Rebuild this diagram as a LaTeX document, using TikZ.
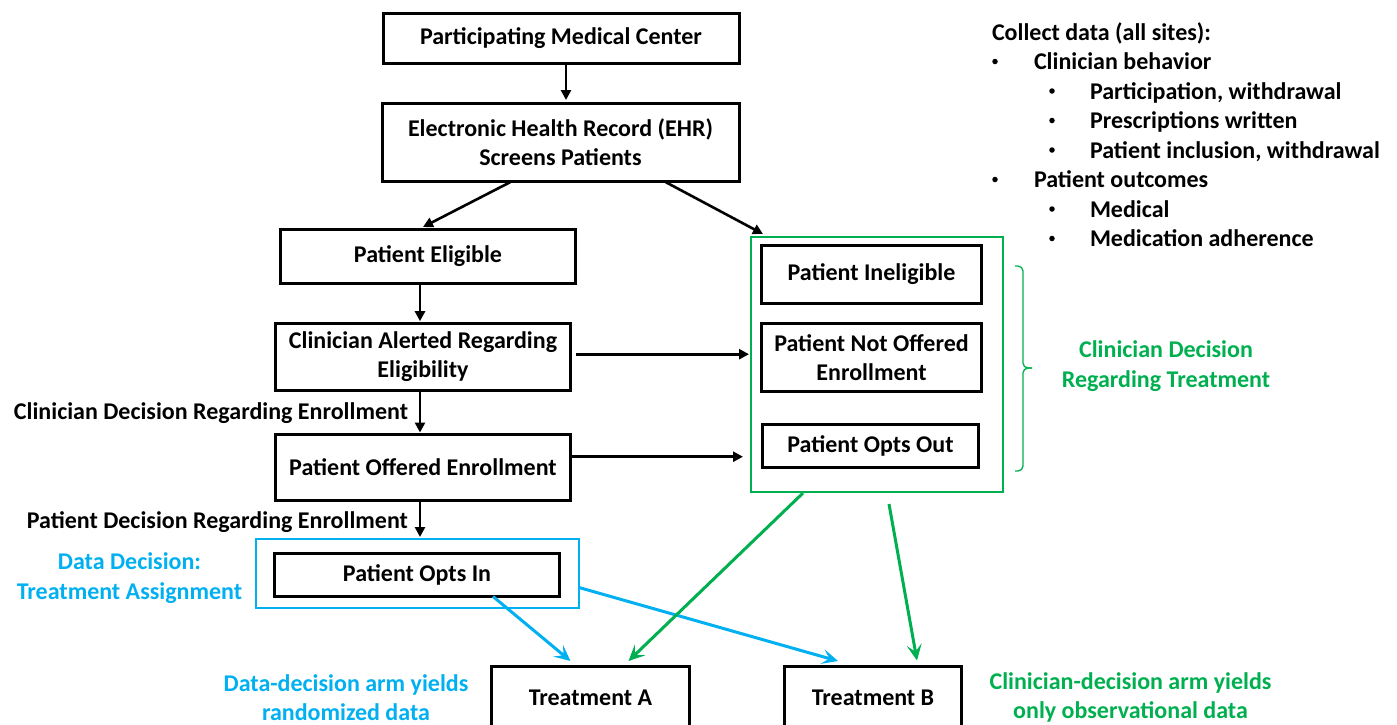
\documentclass[tikz,border=0pt]{standalone}
\usepackage{fontspec}
\setmainfont{Carlito}
\usetikzlibrary{arrows.meta,calc}
\definecolor{cblue}{HTML}{00B0F0}
\definecolor{cgreen}{HTML}{00B050}
\begin{document}
\begin{tikzpicture}[x=1pt,y=-1pt,
  every node/.style={font=\bfseries\fontsize{24}{29.5}\selectfont, inner sep=0pt, outer sep=0pt},
  box/.style={draw=black, line width=3pt, align=center, fill=white},
  barrow/.style={draw=black, line width=2.6pt, -{Triangle[length=10pt,width=10pt]}},
  carrow/.style={line width=3pt, -{Stealth[length=16pt,width=15pt,inset=7pt]}},
  lbl/.style={align=center},
  item/.style={anchor=base west},
  bul/.style={circle, fill=black, minimum size=5.5pt}]
\clip (0,0) rectangle (1397,724);
\fill[white] (0,0) rectangle (1397,724);

% containers
\node[draw=cgreen, line width=2.5pt, minimum width=252pt, minimum height=255pt] (green) at (877,364.5) {};
\node[draw=cblue, line width=2.5pt, minimum width=323pt, minimum height=69pt] (bluebox) at (417.5,573.5) {};

% boxes
\node[box, minimum width=356pt, minimum height=50pt] (pmc) at (561,38) {Participating Medical Center};
\node[box, minimum width=357pt, minimum height=78pt] (ehr) at (560.5,142) {Electronic Health Record (EHR)\\Screens Patients};
\node[box, minimum width=295pt, minimum height=54pt] (elig) at (428,256) {Patient Eligible};
\node[box, minimum width=295pt, minimum height=67pt] (alert) at (423,356.7) {Clinician Alerted Regarding\\Eligibility};
\node[box, minimum width=295pt, minimum height=66pt] (offer) at (423,467.5) {Patient Offered Enrollment};
\node[box, minimum width=285pt, minimum height=43pt] (optsin) at (417,575) {Patient Opts In};
\node[box, minimum width=220pt, minimum height=58pt] (inelig) at (871.5,274.5) {Patient Ineligible};
\node[box, minimum width=220pt, minimum height=68pt] (notoff) at (871.5,357.5) {Patient Not Offered\\Enrollment};
\node[box, minimum width=216pt, minimum height=43pt] (optsout) at (870.5,446) {Patient Opts Out};
\node[box, minimum width=198pt, minimum height=63pt] (treatA) at (590.5,698) {Treatment A};
\node[box, minimum width=177pt, minimum height=63pt] (treatB) at (873,698) {Treatment B};

% brace
\draw[cgreen, line width=1.3pt, rounded corners=5pt] (1015,266) -- (1023,266) -- (1023,368) -- (1032,368);
\draw[cgreen, line width=1.3pt, rounded corners=5pt] (1032,368) -- (1023,368) -- (1023,471) -- (1015,471);

% labels
\node[lbl, anchor=east] (lce) at (408,413) {Clinician Decision Regarding Enrollment};
\node[lbl, anchor=east] (lpe) at (408,522.5) {Patient Decision Regarding Enrollment};
\node[lbl, text=cblue] (ldd) at (129.5,578) {Data Decision:\\Treatment Assignment};
\node[lbl, text=cgreen] (lcd) at (1166,366) {Clinician Decision\\Regarding Treatment};
\node[lbl, text=cblue] (lda) at (346,697.5) {Data-decision arm yields\\randomized data};
\node[lbl, text=cgreen] (lca) at (1130.5,697.5) {Clinician-decision arm yields\\only observational data};

% list
\node[item] (t0) at (992,40) {Collect data (all sites):};
\node[bul] (b1) at (995,61.5) {};
\node[item] (t1) at (1034,69.5) {Clinician behavior};
\node[bul] (b2) at (1052,91) {};
\node[item] (t2) at (1090,99) {Participation, withdrawal};
\node[bul] (b3) at (1052,120.5) {};
\node[item] (t3) at (1090,128.5) {Prescriptions written};
\node[bul] (b4) at (1052,150) {};
\node[item] (t4) at (1090,158) {Patient inclusion, withdrawal};
\node[bul] (b5) at (995,179.5) {};
\node[item] (t5) at (1034,187.5) {Patient outcomes};
\node[bul] (b6) at (1052,209) {};
\node[item] (t6) at (1090,217) {Medical};
\node[bul] (b7) at (1052,238.5) {};
\node[item] (t7) at (1090,246.5) {Medication adherence};

% black arrows
\draw[barrow] ($(pmc.south)+(5,1)$) -- ($(ehr.north)+(5.5,-3)$);
\draw[barrow] ($(ehr.south)+(-50,1)$) -- ($(elig.north)+(-5,-2)$);
\draw[barrow] ($(ehr.south)+(105,1)$) -- ($(green.north west)+(12,-3)$);
\coordinate (a0) at ($(alert.north)+(-3,0)$);
\draw[barrow] (a0 |- elig.south) -- ($(a0)+(0,-2)$);
\coordinate (a1) at ($(alert.east)+(5,-2.5)$);
\draw[barrow] (a1) -- ($(a1 -| green.west)+(-2,0)$);
\coordinate (a2) at ($(alert.south)+(-3,0)$);
\draw[barrow] (a2) -- ($(a2 |- offer.north)+(0,-2)$);
\coordinate (a3) at ($(offer.east)+(0,-10.8)$);
\draw[barrow] (a3) -- ($(a3 -| green.west)+(-8,0)$);
\coordinate (a4) at ($(offer.south)+(-3,0)$);
\draw[barrow] (a4) -- ($(a4 |- bluebox.north)+(0,-2)$);

% coloured arrows
\draw[carrow, cblue] ($(optsin.south)+(76,0)$) -- ($(treatA.north)+(-20,-5.5)$);
\draw[carrow, cblue] ($(bluebox.east)+(0,14)$) -- ($(treatB.north)+(-35,-5.5)$);
\draw[carrow, cgreen] ($(green.south)+(-74,1)$) -- ($(treatA.north)+(38,-5.5)$);
\draw[carrow, cgreen] ($(green.south)+(12,12)$) -- ($(treatB.north)+(44,-6)$);
\end{tikzpicture}
\end{document}
